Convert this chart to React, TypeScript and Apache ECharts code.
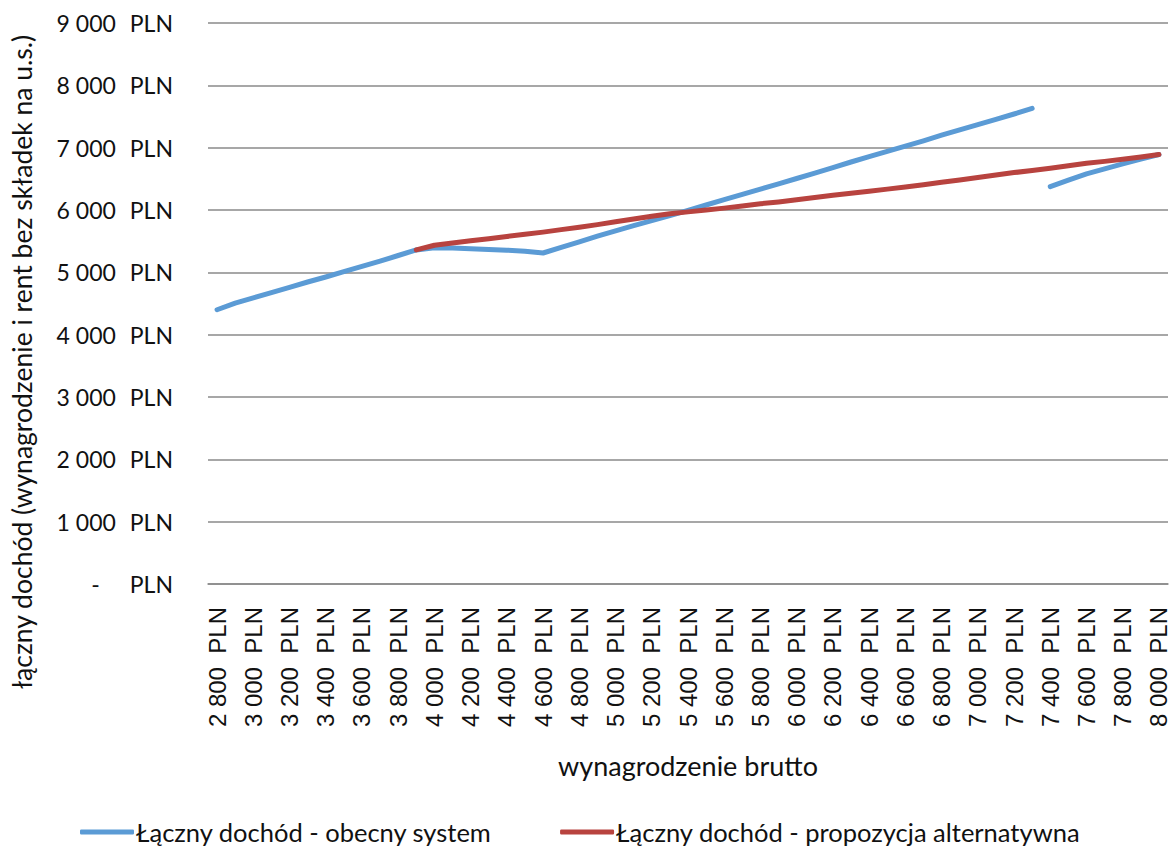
import React, { useEffect, useRef } from "react";
import * as echarts from "echarts";

const salaries = [
  2800, 2900, 3000, 3100, 3200, 3300, 3400, 3500, 3600, 3700, 3800, 3900, 4000, 4100, 4200, 4300, 4400, 4500,
  4600, 4700, 4800, 4900, 5000, 5100, 5200, 5300, 5400, 5500, 5600, 5700, 5800, 5900, 6000, 6100, 6200, 6300,
  6400, 6500, 6600, 6700, 6800, 6900, 7000, 7100, 7200, 7300, 7400, 7500, 7600, 7700, 7800, 7900, 8000,
];

// Łączny dochód - obecny system (up to 7 300 PLN)
const currentSystem = [
  4400, 4505, 4590, 4675, 4760, 4845, 4925, 5010, 5095, 5180, 5270, 5360, 5395, 5390, 5380, 5368, 5355, 5340,
  5310, 5400, 5490, 5580, 5665, 5750, 5830, 5910, 5995, 6080, 6165, 6250, 6335, 6420, 6505, 6590, 6680, 6770,
  6855, 6940, 7025, 7110, 7200, 7285, 7370, 7455, 7540, 7630, null, null, null, null, null, null, null,
];

// Łączny dochód - obecny system (after the cliff, from 7 400 PLN)
const currentSystemAfterCliff = [
  null, null, null, null, null, null, null, null, null, null, null, null, null, null, null, null, null, null,
  null, null, null, null, null, null, null, null, null, null, null, null, null, null, null, null, null, null,
  null, null, null, null, null, null, null, null, null, null, 6375, 6480, 6580, 6660, 6740, 6815, 6890,
];

// Łączny dochód - propozycja alternatywna
const alternative = [
  null, null, null, null, null, null, null, null, null, null, null, 5360, 5435, 5470, 5505, 5540, 5575, 5610,
  5645, 5685, 5723, 5765, 5810, 5855, 5900, 5940, 5970, 6000, 6030, 6065, 6100, 6130, 6165, 6200, 6235, 6268,
  6300, 6335, 6370, 6405, 6445, 6480, 6520, 6560, 6600, 6635, 6670, 6710, 6750, 6780, 6815, 6850, 6890,
];

const yMin = 0;
const yMax = 9000;
const yStep = 1000;

const seriesNames = ["Łączny dochód - obecny system", "Łączny dochód - propozycja alternatywna"];
const yTitle = "łączny dochód (wynagrodzenie i rent bez składek na u.s.)";
const xTitle = "wynagrodzenie brutto";

const BLUE = "#5B9BD5";
const RED = "#B8433F";
const GRID = "#8a8a8a";
const TEXT = "#111";
const SANS = "Lato, 'Open Sans', sans-serif";
const ARIAL = "'Liberation Sans', Arial, sans-serif";

function fmt(n: number): string {
  return String(n).replace(/\B(?=(\d{3})+(?!\d))/g, " ");
}

export default function App() {
  const ref = useRef<HTMLDivElement>(null);

  useEffect(() => {
    if (!ref.current) return;
    const chart = echarts.init(ref.current, null, { renderer: "svg" });
    const lineStyle = (c: string) => ({ color: c, width: 5, cap: "round" as const, join: "round" as const });
    chart.setOption({
      animation: false,
      backgroundColor: "#ffffff",
      grid: { left: 208, right: 5, top: 23, bottom: 271, containLabel: false },
      legend: {
        data: seriesNames,
        left: 80,
        top: 819,
        icon: "roundRect",
        itemWidth: 54,
        itemHeight: 5,
        itemGap: 68,
        padding: 0,
        textStyle: { fontFamily: SANS, fontSize: 25.5, color: TEXT, padding: [0, 0, 0, -3] },
      },
      xAxis: {
        type: "category",
        data: salaries,
        boundaryGap: true,
        axisLine: { show: true, lineStyle: { color: GRID, width: 1.5 } },
        axisTick: { show: false },
        axisLabel: {
          interval: 1,
          rotate: 90,
          margin: 23,
          fontFamily: ARIAL,
          fontSize: 24,
          color: TEXT,
          formatter: (v: string) => fmt(Number(v)) + "\u00A0\u00A0PLN",
        },
        name: xTitle,
        nameLocation: "middle",
        nameGap: 168,
        nameTextStyle: { fontFamily: SANS, fontSize: 27, color: TEXT },
        splitLine: { show: false },
      },
      yAxis: {
        type: "value",
        min: yMin,
        max: yMax,
        interval: yStep,
        axisLine: { show: false },
        axisTick: { show: false },
        splitLine: { show: true, lineStyle: { color: GRID, width: 1.5 } },
        axisLabel: {
          margin: 35,
          fontFamily: SANS,
          fontSize: 23,
          color: TEXT,
          formatter: (v: number) => (v === 0 ? "{d|-}{u|PLN}" : `{n|${fmt(v)}}{u|PLN}`),
          rich: {
            n: { fontFamily: SANS, fontSize: 23, color: TEXT, width: 66, align: "right" },
            d: { fontFamily: SANS, fontSize: 23, color: TEXT, width: 50, align: "right", padding: [0, 16, 0, 0] },
            u: { fontFamily: SANS, fontSize: 23, color: TEXT, padding: [0, 0, 0, 14] },
          },
        },
      },
      graphic: [
        {
          type: "text",
          x: 22,
          y: 362,
          rotation: Math.PI / 2,
          style: {
            text: yTitle,
            fontFamily: SANS,
            fontSize: 26.5,
            fill: TEXT,
            align: "center",
            verticalAlign: "middle",
          },
        },
      ],
      series: [
        {
          name: seriesNames[0],
          type: "line",
          data: currentSystem,
          showSymbol: false,
          symbol: "none",
          lineStyle: lineStyle(BLUE),
          itemStyle: { color: BLUE },
          z: 3,
        },
        {
          name: seriesNames[0],
          type: "line",
          data: currentSystemAfterCliff,
          showSymbol: false,
          symbol: "none",
          lineStyle: lineStyle(BLUE),
          itemStyle: { color: BLUE },
          z: 3,
        },
        {
          name: seriesNames[1],
          type: "line",
          data: alternative,
          showSymbol: false,
          symbol: "none",
          lineStyle: lineStyle(RED),
          itemStyle: { color: RED },
          z: 4,
        },
      ],
    });
    return () => chart.dispose();
  }, []);

  return (
    <div
      ref={ref}
      style={{ position: "fixed", left: 0, top: 0, width: 1173, height: 855, background: "#fff" }}
    />
  );
}
